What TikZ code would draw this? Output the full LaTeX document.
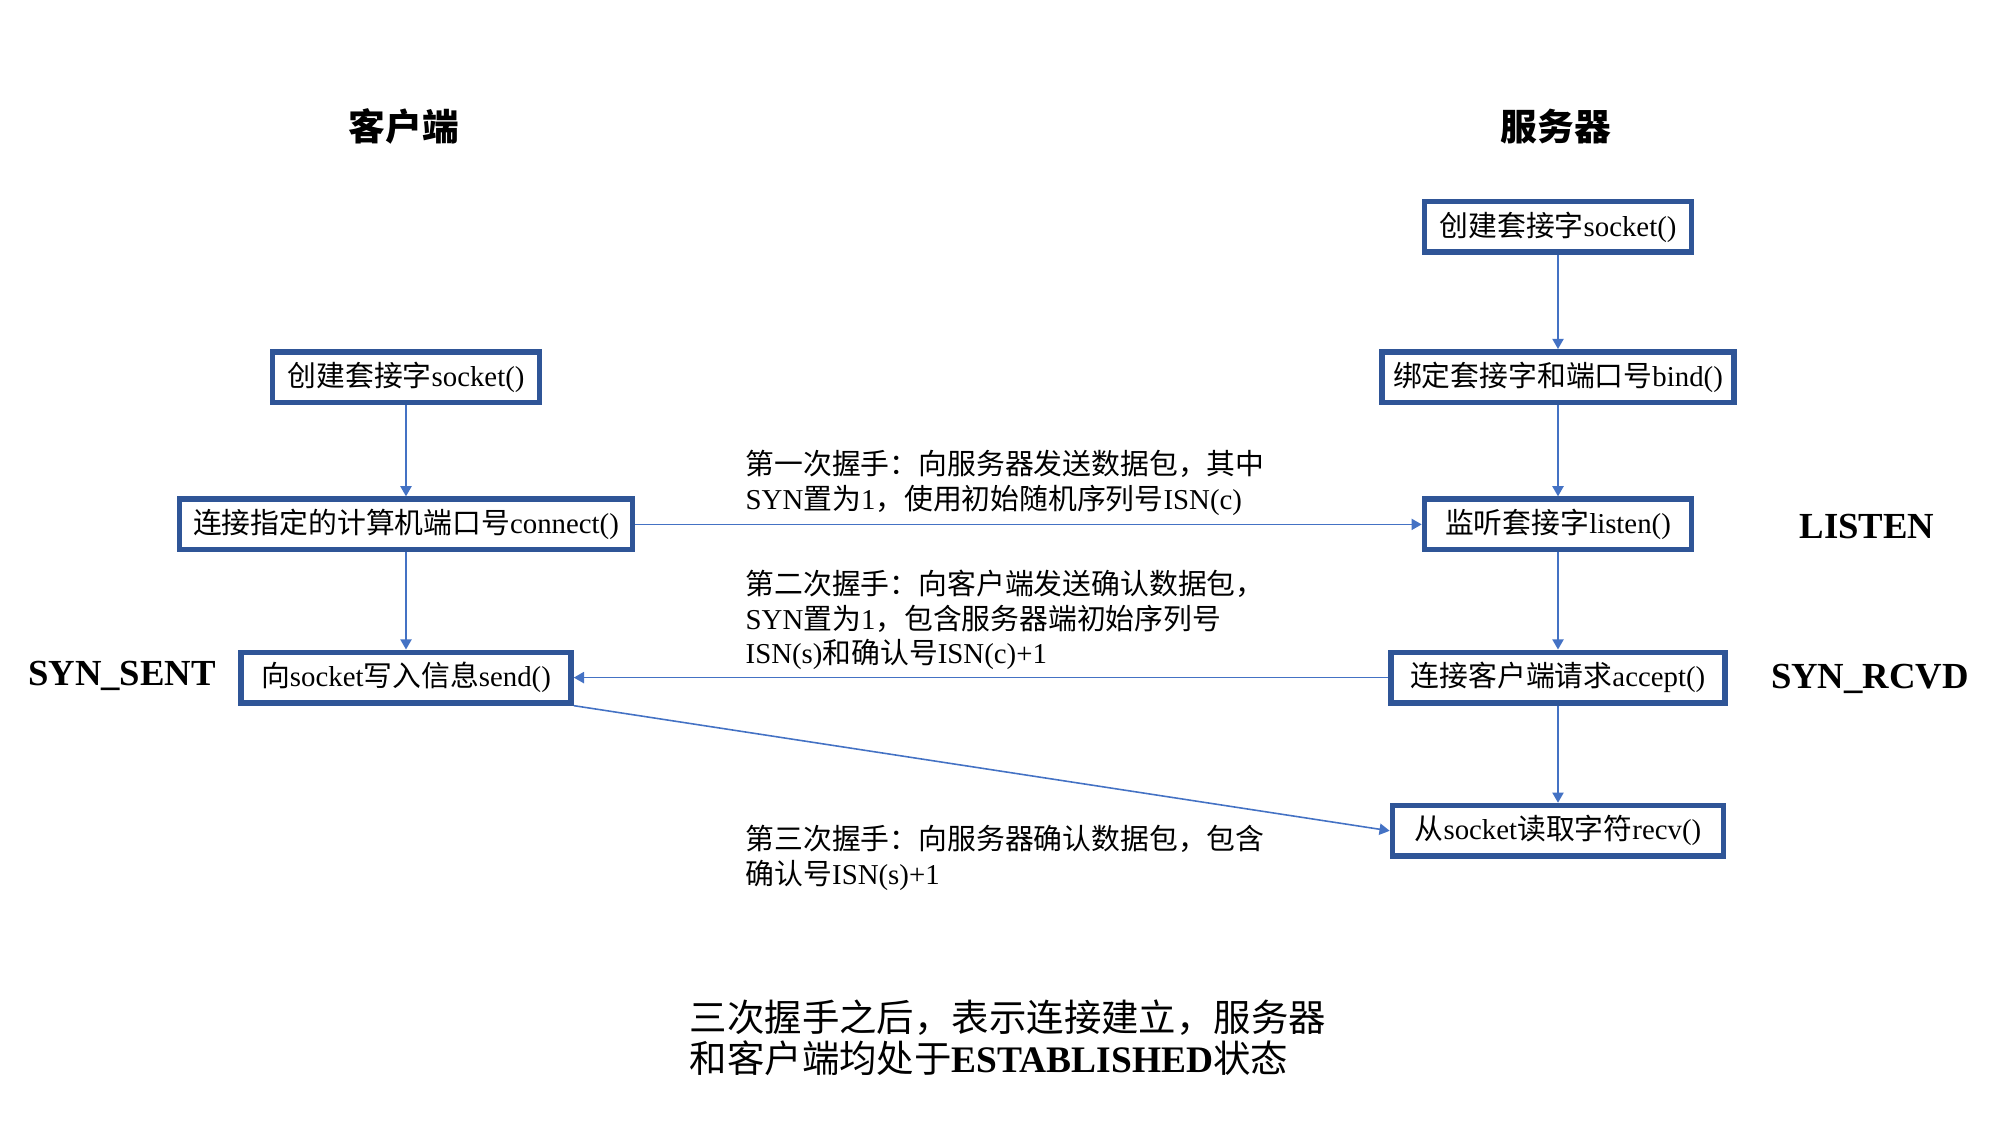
\documentclass[tikz,border=0pt]{standalone}
\usepackage{fontspec}
\setmainfont{Liberation Serif}
\newfontfamily\cjk{Noto Sans CJK SC}
\usetikzlibrary{arrows.meta}
\definecolor{boxblue}{HTML}{2F5597}
\definecolor{lineblue}{HTML}{4472C4}
\newcommand{\zh}[1]{{\cjk #1}}
\newcommand{\nodefont}{\fontsize{8.2}{9.9}\selectfont}
\newcommand{\headfont}{\fontsize{10.45}{12}\selectfont}
\newcommand{\sumfont}{\fontsize{10.65}{11.9}\selectfont}

\begin{document}
\begin{tikzpicture}
[typeC/.style={rectangle,draw=boxblue,line width=1.6pt,fill=white,inner sep=0pt,minimum height=5.05mm,font=\nodefont},
 typeS/.style={typeC},
 head/.style={font=\cjk\bfseries\headfont},
 stat/.style={font=\bfseries\headfont},
 note/.style={align=left,anchor=west,inner sep=0pt,font=\nodefont},
 flow/.style={draw=lineblue,line width=0.45pt,-{Triangle[length=2.9pt,width=3.2pt]}}]
\useasboundingbox (0,0) rectangle (20,11.25);
% titles
\node[head] (cT) at ( 4.04, 9.986) {客户端};
\node[head] (sT) at (15.56, 9.986) {服务器};
% server side
\node[typeS,minimum width=26.7mm] (sSock)   at (15.58, 8.981) {\zh{创建套接字}socket()};
\node[typeS,minimum width=35.2mm] (sBind)   at (15.58, 7.479) {\zh{绑定套接字和端口号}bind()};
\node[typeS,minimum width=26.7mm] (sListen) at (15.58, 6.006) {\zh{监听套接字}listen()};
\node[typeS,minimum width=33.4mm] (sAccept) at (15.58, 4.474) {\zh{连接客户端请求}accept()};
\node[typeS,minimum width=33.1mm] (sRecv)   at (15.58, 2.942) {\zh{从}socket\zh{读取字符}recv()};
% client side
\node[typeC,minimum width=26.7mm] (cSock)   at ( 4.06, 7.479) {\zh{创建套接字}socket()};
\node[typeC,minimum width=45.3mm] (cConn)   at ( 4.06, 6.006) {\zh{连接指定的计算机端口号}connect()};
\node[typeC,minimum width=33.0mm] (cSend)   at ( 4.06, 4.474) {\zh{向}socket\zh{写入信息}send()};
% states
\node[stat] (sListenSt) at (18.67, 5.986) {LISTEN};
\node[stat] (cSentSt)   at ( 1.22, 4.494) {SYN\_SENT};
\node[stat] (sRcvdSt)   at (18.70, 4.464) {SYN\_RCVD};
% handshakes
\node[note] (hs1) at (7.45, 6.419) {\zh{第一次握手：向服务器发送数据包，其中}\\SYN\zh{置为}1\zh{，使用初始随机序列号}ISN(c)};
\node[note] (hs2) at (7.45, 5.051) {\zh{第二次握手：向客户端发送确认数据包，}\\SYN\zh{置为}1\zh{，包含服务器端初始序列号}\\ISN(s)\zh{和确认号}ISN(c)+1};
\node[note] (hs3) at (7.45, 2.673) {\zh{第三次握手：向服务器确认数据包，包含}\\\zh{确认号}ISN(s)+1};
\node[note,font=\sumfont] (done) at (6.89, 0.872) {\zh{三次握手之后，表示连接建立，服务器}\\\zh{和客户端均处于}\textbf{ESTABLISHED}\zh{状态}};
\path (cSock)             edge[flow] (cConn)
      (cConn)             edge[flow] (cSend)
                          edge[flow] (sListen)
      (sAccept)           edge[flow] (cSend)
      (cSend.south east)  edge[flow] (sRecv.west)
      (sSock)             edge[flow] (sBind)
      (sBind)             edge[flow] (sListen)
      (sListen)           edge[flow] (sAccept)
      (sAccept)           edge[flow] (sRecv);
\end{tikzpicture}
\end{document}
